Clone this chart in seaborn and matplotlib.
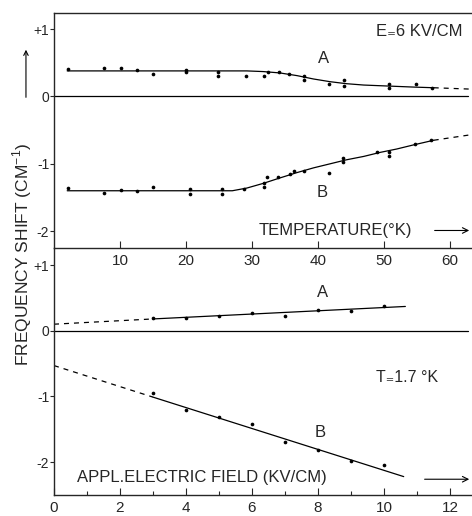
import matplotlib
matplotlib.use("Agg")
import matplotlib.pyplot as plt
import seaborn as sns

# --- data ---
# upper panel: shift vs temperature (E = 6 kV/cm)
temp_A_x = [2.1, 7.6, 10.1, 12.6, 15.0, 20.0, 20.0, 24.9, 24.9, 29.1, 31.8, 32.4,
            34.1, 35.6, 37.9, 37.9, 41.7, 43.9, 43.9, 50.8, 50.8, 54.8, 57.3]
temp_A_y = [0.41, 0.43, 0.43, 0.39, 0.34, 0.40, 0.36, 0.37, 0.31, 0.30, 0.30, 0.37,
            0.37, 0.34, 0.30, 0.24, 0.19, 0.24, 0.15, 0.18, 0.12, 0.19, 0.12]
temp_B_x = [2.1, 7.6, 10.1, 12.6, 15.0, 20.6, 20.6, 25.4, 25.4, 28.8, 31.8, 31.8, 32.3,
            33.9, 35.8, 36.4, 37.9, 41.7, 43.8, 43.8, 48.9, 50.8, 50.8, 54.7, 57.1]
temp_B_y = [-1.36, -1.43, -1.39, -1.40, -1.34, -1.37, -1.45, -1.37, -1.45, -1.38, -1.28,
            -1.34, -1.20, -1.20, -1.15, -1.10, -1.10, -1.13, -0.92, -0.98, -0.83, -0.83,
            -0.88, -0.71, -0.65]

# fitted curves (solid part + dashed extrapolation)
curve_x = [2, 10, 20, 27, 29.2, 31.7, 34.2, 36.8, 39.3, 41.8, 44.3, 46.9, 49.4, 51.9, 54.4, 57.5]
curve_A = [0.38, 0.38, 0.38, 0.38, 0.38, 0.37, 0.35, 0.31, 0.26, 0.22, 0.19, 0.17, 0.16,
           0.15, 0.14, 0.13]
curve_B = [-1.40, -1.40, -1.40, -1.40, -1.36, -1.29, -1.21, -1.13, -1.06, -1.00, -0.94,
           -0.89, -0.83, -0.78, -0.72, -0.65]
ext_x = [57.5, 63.0]
ext_A = [0.13, 0.11]
ext_B = [-0.65, -0.57]

# lower panel: shift vs applied field (T = 1.7 K)
field_x = [3, 4, 5, 6, 7, 8, 9, 10]
field_A = [0.19, 0.19, 0.22, 0.27, 0.23, 0.32, 0.30, 0.37]
field_B = [-0.95, -1.21, -1.31, -1.42, -1.69, -1.82, -1.98, -2.05]
fitA_x, fitA_y = [3, 10.65], [0.18, 0.37]
fitB_x, fitB_y = [3, 10.6], [-1.01, -2.22]
dashA_x, dashA_y = [0, 3], [0.10, 0.18]
dashB_x, dashB_y = [0, 3], [-0.53, -1.01]

y_ticks = [1, 0, -1, -2]
y_labels = ['+1', '0', '-1', '-2']

sns.set_style("ticks")
plt.rcParams['font.family'] = ['Liberation Sans', 'DejaVu Sans']
plt.rcParams['mathtext.fontset'] = 'custom'
plt.rcParams['mathtext.rm'] = 'Liberation Sans'

fig = plt.figure(figsize=(4.72, 5.16), dpi=100)
ax1 = fig.add_axes([0.1144, 0.5194, 0.8856, 0.4554])
ax2 = fig.add_axes([0.1144, 0.0407, 0.8856, 0.4787])
ax2.patch.set_alpha(0)

lw = 0.9
dot = dict(color='black', s=7, linewidth=0, marker='o')
dash = (0, (4, 4))

# upper panel
sns.scatterplot(x=temp_A_x, y=temp_A_y, ax=ax1, **dot)
sns.scatterplot(x=temp_B_x, y=temp_B_y, ax=ax1, **dot)
sns.lineplot(x=curve_x, y=curve_A, ax=ax1, color='black', lw=lw, estimator=None)
sns.lineplot(x=curve_x, y=curve_B, ax=ax1, color='black', lw=lw, estimator=None)
sns.lineplot(x=ext_x, y=ext_A, ax=ax1, color='black', lw=lw, estimator=None, linestyle=dash)
sns.lineplot(x=ext_x, y=ext_B, ax=ax1, color='black', lw=lw, estimator=None, linestyle=dash)
ax1.axhline(0, xmax=0.99, color='black', lw=lw)

ax1.set_xlim(0, 63.3)
ax1.set_ylim(-2.25, 1.24)
ax1.set_xticks([10, 20, 30, 40, 50, 60])
ax1.set_yticks(y_ticks)
ax1.set_yticklabels(y_labels)
ax1.text(40.8, 0.57, 'A', ha='center', va='center', fontsize=12)
ax1.text(40.6, -1.42, 'B', ha='center', va='center', fontsize=12)
ax1.text(61.9, 0.96, 'E\u208c6 KV/CM', ha='right', va='center', fontsize=12)
ax1.text(42.6, -1.99, 'TEMPERATURE(\u00b0K)', ha='center', va='center', fontsize=12)
ax1.annotate('', xy=(1.0, -1.99), xytext=(0.904, -1.99),
             xycoords=('axes fraction', 'data'), textcoords=('axes fraction', 'data'),
             arrowprops=dict(arrowstyle='->', lw=0.8, color='black'))

# lower panel
sns.scatterplot(x=field_x, y=field_A, ax=ax2, **dot)
sns.scatterplot(x=field_x, y=field_B, ax=ax2, **dot)
sns.lineplot(x=fitA_x, y=fitA_y, ax=ax2, color='black', lw=lw, estimator=None)
sns.lineplot(x=fitB_x, y=fitB_y, ax=ax2, color='black', lw=lw, estimator=None)
sns.lineplot(x=dashA_x, y=dashA_y, ax=ax2, color='black', lw=lw, estimator=None, linestyle=dash)
sns.lineplot(x=dashB_x, y=dashB_y, ax=ax2, color='black', lw=lw, estimator=None, linestyle=dash)
ax2.axhline(0, xmax=0.99, color='black', lw=lw)

ax2.set_xlim(0, 12.67)
ax2.set_ylim(-2.5, 1.26)
ax2.set_xticks([0, 2, 4, 6, 8, 10, 12])
ax2.set_xticks([1, 3, 5, 7, 9, 11], minor=True)
ax2.set_yticks(y_ticks)
ax2.set_yticklabels(y_labels)
ax2.text(8.15, 0.58, 'A', ha='center', va='center', fontsize=12)
ax2.text(8.06, -1.55, 'B', ha='center', va='center', fontsize=12)
ax2.text(10.7, -0.71, 'T\u208c1.7 \u00b0K', ha='center', va='center', fontsize=11.5)
ax2.text(0.7, -2.23, 'APPL.ELECTRIC FIELD (KV/CM)', ha='left', va='center', fontsize=12)
ax2.annotate('', xy=(1.0, -2.26), xytext=(0.88, -2.26),
             xycoords=('axes fraction', 'data'), textcoords=('axes fraction', 'data'),
             arrowprops=dict(arrowstyle='->', lw=0.8, color='black'))

for ax in (ax1, ax2):
    ax.spines['right'].set_visible(False)
    for s in ax.spines.values():
        s.set_linewidth(1.0)
    ax.tick_params(axis='x', direction='in', length=5, width=0.8, labelsize=11, pad=4)
    ax.tick_params(axis='x', which='minor', direction='in', length=3, width=0.8)
    ax.tick_params(axis='y', direction='out', length=3, width=0.8, labelsize=10, pad=0.5)
ax2.spines['top'].set_visible(False)

fig.text(0.047, 0.506, 'FREQUENCY SHIFT (CM$^{-1}$)', rotation=90, ha='center', va='center', fontsize=12.5)
fig.patches.append(matplotlib.patches.FancyArrowPatch(
    (0.055, 0.806), (0.055, 0.909), transform=fig.transFigure,
    arrowstyle='->', lw=0.8, color='black', mutation_scale=8))

fig.savefig('out.png', dpi=100)
